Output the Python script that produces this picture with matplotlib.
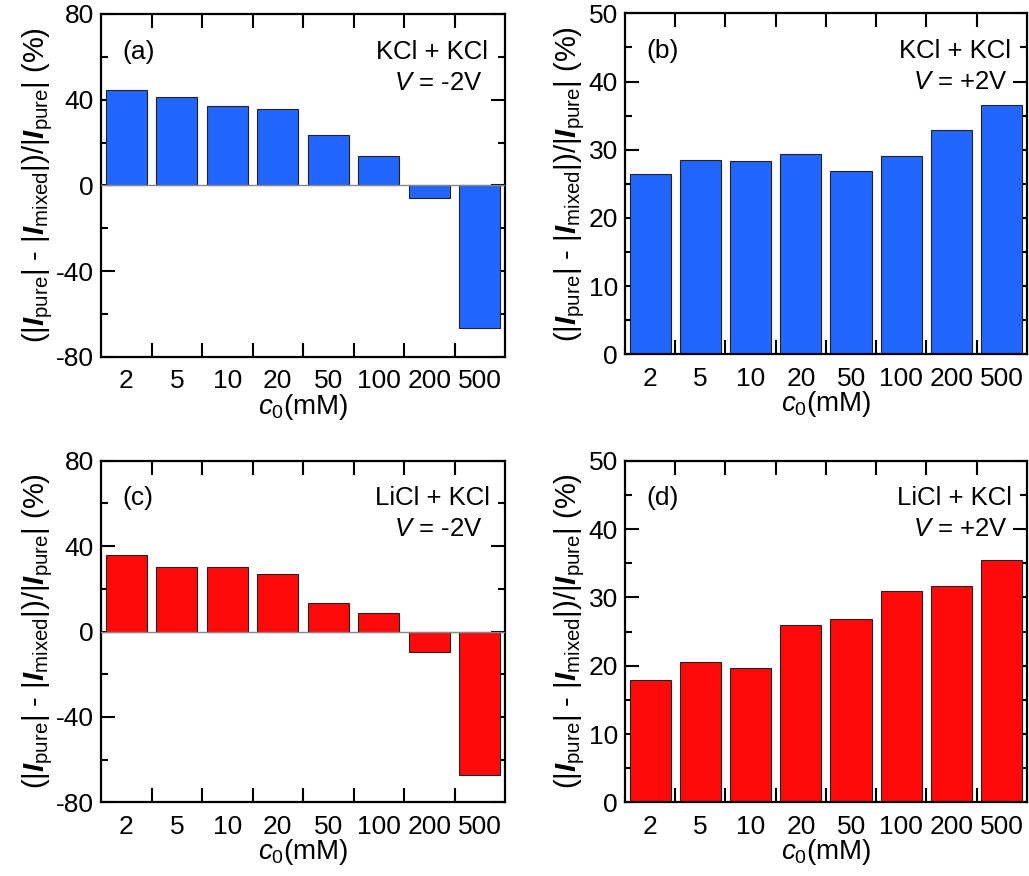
import numpy as np
import matplotlib
matplotlib.use("Agg")
import matplotlib.pyplot as plt
from matplotlib.ticker import MultipleLocator

plt.rcParams["font.family"] = ["Liberation Sans", "DejaVu Sans"]
plt.rcParams["mathtext.fontset"] = "custom"
plt.rcParams["mathtext.rm"] = "Liberation Sans"
plt.rcParams["mathtext.it"] = "Liberation Sans:italic"
plt.rcParams["mathtext.bf"] = "Liberation Sans:bold"
plt.rcParams["mathtext.bfit"] = "Liberation Sans:italic:bold"
plt.rcParams["axes.unicode_minus"] = False

# concentrations (category labels)
conc = ["2", "5", "10", "20", "50", "100", "200", "500"]

# relative current change (%)
kcl_neg = [44.6, 41.3, 37.2, 35.8, 23.4, 13.7, -5.9, -66.6]
kcl_pos = [26.5, 28.5, 28.4, 29.4, 26.9, 29.1, 32.9, 36.6]
licl_neg = [35.9, 30.1, 30.3, 26.8, 13.4, 8.9, -9.7, -67.0]
licl_pos = [17.9, 20.5, 19.6, 25.9, 26.9, 31.0, 31.6, 35.5]

BLUE = "#2266ff"
RED = "#ff0a0a"

YLABEL = (r"(|$\mathbfit{I}_{\rm pure}$| - |$\mathbfit{I}_{\rm mixed}$|)"
          r"/|$\mathbfit{I}_{\rm pure}$| (%)")

fig = plt.figure(figsize=(10.29, 8.76), dpi=100)

panels = [
    # rect, data, color, tag, mix, volt, ylim, major, minor
    ([0.0982, 0.5925, 0.3926, 0.3916], kcl_neg, BLUE, "(a)", "KCl + KCl", "-2V", (-80, 80), 40, 20),
    ([0.6074, 0.5955, 0.3906, 0.3893], kcl_pos, BLUE, "(b)", "KCl + KCl", "+2V", (0, 50), 10, 5),
    ([0.0982, 0.0841, 0.3926, 0.3900], licl_neg, RED, "(c)", "LiCl + KCl", "-2V", (-80, 80), 40, 20),
    ([0.6074, 0.0841, 0.3906, 0.3900], licl_pos, RED, "(d)", "LiCl + KCl", "+2V", (0, 50), 10, 5),
]

for rect, vals, col, tag, mix, volt, ylim, major, minor in panels:
    ax = fig.add_axes(rect)
    x = np.arange(len(conc))
    ax.bar(x, vals, width=0.82, color=col, edgecolor="#222222",
           linewidth=0.8, zorder=2)
    if ylim[0] < 0:
        ax.axhline(0, color="#888888", linewidth=1.0, zorder=3)
    ax.set_xlim(-0.5, len(conc) - 0.5)
    ax.set_ylim(*ylim)

    # category labels at centers, ticks on boundaries
    ax.set_xticks(x)
    ax.set_xticklabels(conc)
    ax.set_xticks(np.arange(0.5, len(conc) - 0.5, 1.0), minor=True)
    ax.tick_params(axis="x", which="major", length=0, pad=9, labelsize=19)
    ax.tick_params(axis="x", which="minor", direction="in", length=10,
                   width=1.5, top=True, bottom=True)

    ax.yaxis.set_major_locator(MultipleLocator(major))
    ax.yaxis.set_minor_locator(MultipleLocator(minor))
    ax.tick_params(axis="y", which="major", direction="in", length=10,
                   width=1.5, left=True, right=True, labelsize=19, pad=5)
    ax.tick_params(axis="y", which="minor", direction="in", length=5,
                   width=1.5, left=True, right=True)
    for s in ax.spines.values():
        s.set_linewidth(1.6)

    ax.set_xlabel(r"$c_0$(mM)", fontsize=20, labelpad=-1)
    ax.set_ylabel(YLABEL, fontsize=21, labelpad=1)

    ax.text(0.052, 0.89, tag, transform=ax.transAxes, ha="left",
            va="center", fontsize=19)
    ax.text(0.82, 0.89, mix, transform=ax.transAxes, ha="center",
            va="center", fontsize=18.5)
    ax.text(0.835, 0.80, r"$V$ = " + volt, transform=ax.transAxes,
            ha="center", va="center", fontsize=18.5)

fig.savefig("out.png", dpi=100)
